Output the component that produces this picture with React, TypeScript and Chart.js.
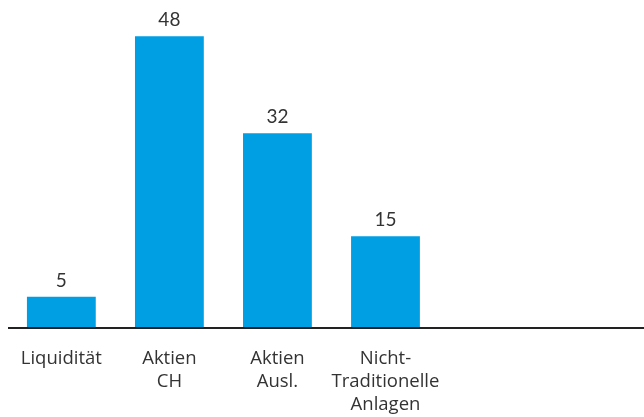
import React, { useEffect, useRef } from "react";
import { Chart, registerables } from "chart.js";

Chart.register(...registerables);

const categories: (string | string[])[] = [
  "Liquidität",
  ["Aktien", "CH"],
  ["Aktien", "Ausl."],
  ["Nicht-", "Traditionelle", "Anlagen"],
];
const values: number[] = [5, 48, 32, 15];

const BAR_COLOR = "#009FE3";
const TEXT_COLOR = "#333333";
const VALUE_FONT = "Lato, 'Open Sans', sans-serif";
const TICK_FONT = "'Open Sans', Lato, sans-serif";

const valueLabels = {
  id: "valueLabels",
  afterDatasetsDraw(chart: any) {
    const ctx = chart.ctx;
    const meta = chart.getDatasetMeta(0);
    ctx.save();
    ctx.fillStyle = TEXT_COLOR;
    ctx.font = `19px ${VALUE_FONT}`;
    ctx.textAlign = "center";
    ctx.textBaseline = "alphabetic";
    meta.data.forEach((bar: any, i: number) => {
      ctx.fillText(String(chart.data.datasets[0].data[i]), bar.x, bar.y - 10);
    });
    ctx.restore();
  },
};

const baseLine = {
  id: "baseLine",
  afterDraw(chart: any) {
    const ctx = chart.ctx;
    const y = chart.chartArea.bottom + 1;
    ctx.save();
    ctx.strokeStyle = "#222222";
    ctx.lineWidth = 2;
    ctx.beginPath();
    ctx.moveTo(8, y);
    ctx.lineTo(chart.width, y);
    ctx.stroke();
    ctx.restore();
  },
};

export default function App() {
  const canvasRef = useRef<HTMLCanvasElement | null>(null);

  useEffect(() => {
    if (!canvasRef.current) return;
    const chart = new Chart(canvasRef.current, {
      type: "bar",
      data: {
        labels: categories,
        datasets: [
          {
            data: values,
            backgroundColor: BAR_COLOR,
            borderWidth: 0,
            categoryPercentage: 1,
            barPercentage: 0.637,
          },
        ],
      },
      options: {
        animation: false,
        responsive: false,
        maintainAspectRatio: false,
        layout: { padding: { left: 6.3, right: 204.5, top: 0, bottom: 0 } },
        plugins: {
          legend: { display: false },
          tooltip: { enabled: false },
        },
        scales: {
          x: {
            grid: { display: false, drawTicks: false },
            border: { display: false },
            ticks: {
              color: TEXT_COLOR,
              font: { family: TICK_FONT, size: 18.5, lineHeight: 1.25 },
              padding: 20,
              maxRotation: 0,
              autoSkip: false,
            },
            afterFit: (scale: any) => {
              scale.height = 90;
            },
          },
          y: {
            display: false,
            min: 0,
            max: 54,
          },
        },
      },
      plugins: [valueLabels, baseLine],
    });
    return () => chart.destroy();
  }, []);

  return (
    <div style={{ position: "absolute", left: 0, top: 0, width: 644, height: 417, background: "#fff" }}>
      <canvas ref={canvasRef} width={644} height={417} style={{ display: "block" }} />
    </div>
  );
}
